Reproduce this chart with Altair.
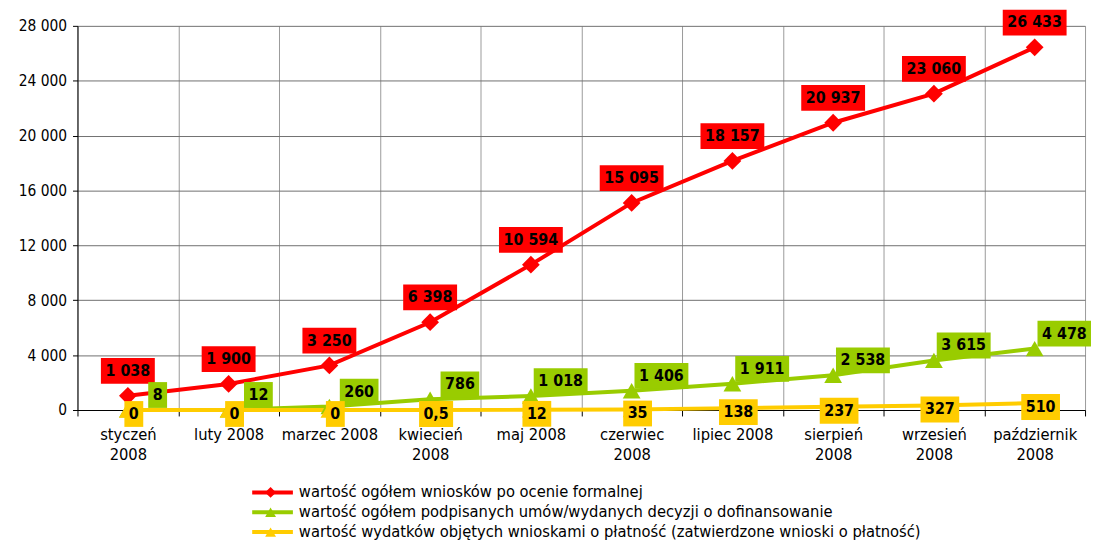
import altair as alt
import pandas as pd

months = ["styczeń\n2008", "luty 2008", "marzec 2008", "kwiecień\n2008", "maj 2008",
          "czerwiec\n2008", "lipiec 2008", "sierpień\n2008", "wrzesień\n2008",
          "październik\n2008"]

series_names = [
    "wartość ogółem wniosków po ocenie formalnej",
    "wartość ogółem podpisanych umów/wydanych decyzji o dofinansowanie",
    "wartość wydatków objętych wnioskami o płatność (zatwierdzone wnioski o płatność)",
]

wnioski = [1038, 1900, 3250, 6398, 10594, 15095, 18157, 20937, 23060, 26433]
umowy = [8, 12, 260, 786, 1018, 1406, 1911, 2538, 3615, 4478]
platnosci = [0, 0, 0, 0.5, 12, 35, 138, 237, 327, 510]

y_ticks = [0, 4000, 8000, 12000, 16000, 20000, 24000, 28000]

colors = ["#FF0000", "#99CC00", "#FFCC00"]
FONT = "DejaVu Sans Condensed, DejaVu Sans"


def fmt(v):
    if float(v).is_integer():
        return f"{int(v):,}".replace(",", " ")
    return str(v).replace(".", ",")


def box_width(s):
    w = 0.0
    for ch in s:
        w += 10.0 if ch.isdigit() else 5.3
    return w + 9


marker_names = [s + "\u200b" for s in series_names]

rows = []
for name, mname, vals in zip(series_names, marker_names, [wnioski, umowy, platnosci]):
    for m, v in zip(months, vals):
        lab = fmt(v)
        rows.append({"month": m, "series": name, "marker": mname, "value": v,
                     "label": lab, "box_w": box_width(lab)})
df = pd.DataFrame(rows)

x_enc = alt.X("month:N", sort=months,
              scale=alt.Scale(type="band", paddingInner=0, paddingOuter=0),
              axis=alt.Axis(title=None, grid=True, tickBand="extent",
                            labelExpr="split(datum.label, '\\n')",
                            labelAngle=0, labelPadding=11, labelLineHeight=20,
                            labelFontSize=16.5, tickSize=6, gridColor="#9a9a9a",
                            labelBaseline="top"))
y_enc = alt.Y("value:Q", stack=None,
              scale=alt.Scale(domain=[0, 28000], nice=False, zero=True),
              axis=alt.Axis(title=None, values=y_ticks, grid=True, tickSize=5,
                            labelPadding=6, labelFontSize=15.5, gridColor="#707070",
                            labelExpr="replace(format(datum.value, ','), ',', ' ')"))

base = alt.Chart(df).encode(x=x_enc, y=y_enc)

LEG_X, LEG_Y, ROW_H = 174, 460, 20

line_legend = alt.Legend(title=None, orient="none", legendX=LEG_X, legendY=LEG_Y,
                         direction="vertical", symbolType="stroke", symbolSize=1681,
                         symbolStrokeWidth=4, clipHeight=ROW_H, rowPadding=0,
                         labelFont=FONT, labelFontSize=16.5, labelColor="black",
                         labelOffset=4, labelLimit=900, padding=0)

marker_legend = alt.Legend(title=None, orient="none", legendX=LEG_X + 15, legendY=LEG_Y,
                           direction="vertical", symbolSize=120, symbolStrokeWidth=0,
                           clipHeight=ROW_H, rowPadding=0, labelExpr="''",
                           labelFontSize=1, labelOffset=0, padding=0)

line = base.mark_line(strokeWidth=4).encode(
    stroke=alt.Stroke("series:N", scale=alt.Scale(domain=series_names, range=colors),
                      legend=line_legend))

points = base.mark_point(filled=True, size=320, opacity=1).encode(
    color=alt.Color("marker:N", scale=alt.Scale(domain=marker_names, range=colors),
                    legend=marker_legend),
    shape=alt.Shape("marker:N",
                    scale=alt.Scale(domain=marker_names,
                                    range=["diamond", "triangle-up", "triangle-up"]),
                    legend=marker_legend))

offsets = [(0, -25), (30, -15), (6, 4)]
BOX_H = 26

layers = [line, points]
for name, col, (dx, dy) in zip(series_names, colors, offsets):
    sub = base.transform_filter(alt.datum.series == name)
    layers.append(sub.mark_bar(color=col, xOffset=dx, yOffset=dy - BOX_H / 2,
                               y2Offset=dy + BOX_H / 2)
                  .encode(y2=alt.Y2("value:Q"),
                          size=alt.Size("box_w:Q", scale=None)))
    layers.append(sub.mark_text(dx=dx, dy=dy, font=FONT, fontSize=16,
                                fontWeight="bold", color="black",
                                baseline="middle", align="center")
                  .encode(text="label:N"))

chart = alt.layer(*layers).properties(
    width=1015, height=387,
    autosize=alt.AutoSizeParams(type="none"),
    padding={"left": 70, "top": 16, "right": 6, "bottom": 133},
).configure_view(stroke=None).configure_axis(
    labelFont=FONT, labelColor="black",
    domainColor="black", tickColor="black", domainWidth=1, gridWidth=1,
)

chart.save("out.html", embed_options={"renderer": "svg", "actions": False})
